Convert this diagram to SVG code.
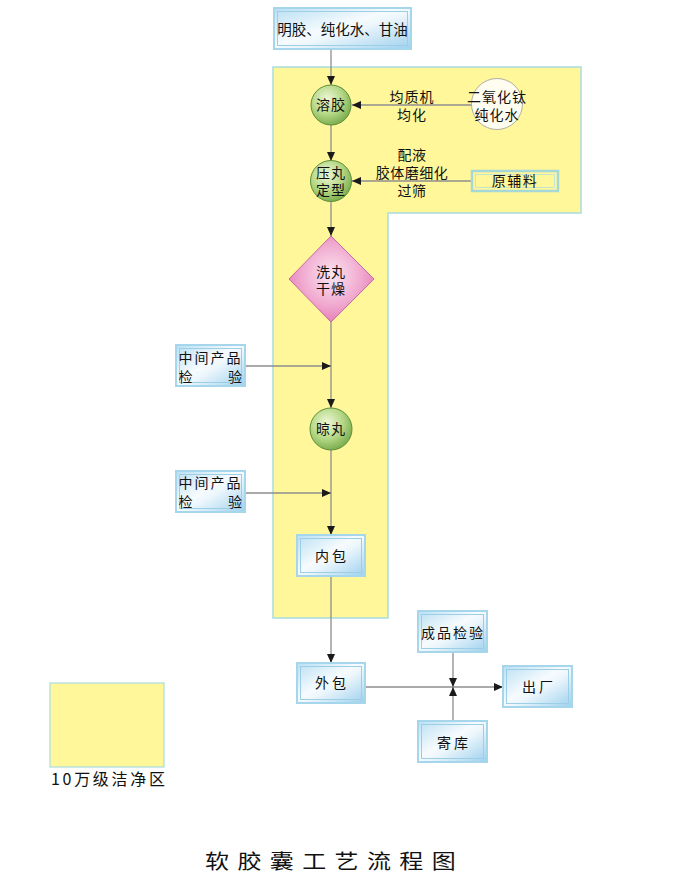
<svg xmlns="http://www.w3.org/2000/svg" width="692" height="890" viewBox="0 0 692 890">
<style>
text{font-family:"Noto Sans CJK SC","Noto Sans",sans-serif;fill:#111;font-size:14px}
.c{text-anchor:middle}
.bo{fill:url(#gb);stroke:#a6d6ec;stroke-width:2}
.bi{fill:none;stroke:#9ccfe6;stroke-width:1}
.ln{fill:none;stroke:#8e8e8e;stroke-width:1.3}
.ci{fill:url(#gg);stroke:#5f8f3a;stroke-width:1}
</style>
<defs>
<linearGradient id="gb" x1="0" y1="0" x2="1" y2="1">
<stop offset="0" stop-color="#b9dff3"/>
<stop offset="0.45" stop-color="#f6fbfe"/>
<stop offset="0.55" stop-color="#eef7fc"/>
<stop offset="1" stop-color="#9dd0ee"/>
</linearGradient>
<radialGradient id="gg" cx="0.4" cy="0.35" r="0.7">
<stop offset="0" stop-color="#eef7d8"/>
<stop offset="0.55" stop-color="#b5d886"/>
<stop offset="1" stop-color="#74a847"/>
</radialGradient>
<radialGradient id="gp" cx="0.5" cy="0.45" r="0.6">
<stop offset="0" stop-color="#fce6f1"/>
<stop offset="0.6" stop-color="#f0a8cf"/>
<stop offset="1" stop-color="#e277b2"/>
</radialGradient>
<marker id="ar" markerUnits="userSpaceOnUse" markerWidth="10" markerHeight="9" refX="9" refY="4" orient="auto">
<path d="M0,0 L9,4 L0,8 z" fill="#1a1a1a"/>
</marker>
</defs>

<g id="cleanroom">
<polygon points="273,67 581,67 581,213 388,213 388,618 273,618" fill="#fff79a" stroke="#a8dce0" stroke-width="1.5"/>
</g>

<g id="connectors">
<line class="ln" x1="331" y1="49" x2="331" y2="85" marker-end="url(#ar)"/>
<line class="ln" x1="331" y1="125" x2="331" y2="161" marker-end="url(#ar)"/>
<line class="ln" x1="331" y1="202" x2="331" y2="236" marker-end="url(#ar)"/>
<line class="ln" x1="331" y1="322" x2="331" y2="408" marker-end="url(#ar)"/>
<line class="ln" x1="331" y1="450" x2="331" y2="535" marker-end="url(#ar)"/>
<line class="ln" x1="331" y1="576" x2="331" y2="663" marker-end="url(#ar)"/>
<line class="ln" x1="472" y1="105" x2="352" y2="105" marker-end="url(#ar)"/>
<line class="ln" x1="472" y1="181" x2="352" y2="181" marker-end="url(#ar)"/>
<line class="ln" x1="245" y1="366" x2="331" y2="366" marker-end="url(#ar)"/>
<line class="ln" x1="245" y1="493" x2="331" y2="493" marker-end="url(#ar)"/>
<line class="ln" x1="365" y1="687" x2="503" y2="687" marker-end="url(#ar)"/>
<line class="ln" x1="453" y1="652" x2="453" y2="687" marker-end="url(#ar)"/>
<line class="ln" x1="453" y1="721" x2="453" y2="687" marker-end="url(#ar)"/>
<text class="c" letter-spacing="1"><tspan x="412" y="102">均质机</tspan><tspan x="412" y="120">均化</tspan></text>
<text class="c" letter-spacing="0.5"><tspan x="412" y="160">配液</tspan><tspan x="412" y="178">胶体磨细化</tspan><tspan x="412" y="196">过筛</tspan></text>
</g>

<g id="n-raw">
<rect class="bo" x="274" y="8" width="137" height="41"/>
<rect class="bi" x="277.5" y="11.5" width="130" height="34"/>
<text class="c" x="342.5" y="35" style="font-size:14.5px">明胶、纯化水、甘油</text>
</g>

<g id="n-rongjiao">
<circle class="ci" cx="331" cy="105" r="20"/>
<text class="c" x="331" y="110" letter-spacing="1">溶胶</text>
</g>

<g id="n-tio2">
<circle cx="497" cy="104" r="25.5" fill="#fffdf0" stroke="#9a9a9a" stroke-width="0.8"/>
<text class="c" letter-spacing="1"><tspan x="497" y="102">二氧化钛</tspan><tspan x="497" y="120">纯化水</tspan></text>
</g>

<g id="n-yawan">
<circle class="ci" cx="331" cy="181" r="20.5"/>
<text class="c" letter-spacing="1"><tspan x="331" y="178">压丸</tspan><tspan x="331" y="195">定型</tspan></text>
</g>

<g id="n-fuliao">
<rect x="472" y="171" width="86" height="20" fill="#fff79a" stroke="#a6d8d8" stroke-width="2.5"/>
<rect x="475.5" y="174.5" width="79" height="13" fill="none" stroke="#b8e0d8" stroke-width="0.8"/>
<text class="c" x="515" y="186" letter-spacing="1.5">原辅料</text>
</g>

<g id="n-xiwan">
<polygon points="331,236 374,279 331,322 289,279" fill="url(#gp)" stroke="#c86aa2" stroke-width="1"/>
<text class="c" letter-spacing="1"><tspan x="331" y="277">洗丸</tspan><tspan x="331" y="294">干燥</tspan></text>
</g>

<g id="n-check1">
<rect class="bo" x="176" y="345" width="69" height="41"/>
<rect class="bi" x="179.5" y="348.5" width="62" height="34"/>
<text><tspan x="178.5" y="363" letter-spacing="2">中间产品</tspan><tspan x="178.5" y="382">检</tspan><tspan x="228" y="382">验</tspan></text>
</g>

<g id="n-liangwan">
<circle class="ci" cx="331" cy="429" r="21"/>
<text class="c" x="331" y="434" letter-spacing="1">晾丸</text>
</g>

<g id="n-check2">
<rect class="bo" x="176" y="471" width="69" height="41"/>
<rect class="bi" x="179.5" y="474.5" width="62" height="34"/>
<text><tspan x="178.5" y="488" letter-spacing="2">中间产品</tspan><tspan x="178.5" y="507">检</tspan><tspan x="228" y="507">验</tspan></text>
</g>

<g id="n-neibao">
<rect class="bo" x="297" y="535" width="68" height="41"/>
<rect class="bi" x="300.5" y="538.5" width="61" height="34"/>
<text class="c" x="332" y="561" letter-spacing="3">内包</text>
</g>

<g id="n-waibao">
<rect class="bo" x="297" y="663" width="68" height="40"/>
<rect class="bi" x="300.5" y="666.5" width="61" height="33"/>
<text class="c" x="332" y="688" letter-spacing="3">外包</text>
</g>

<g id="n-chengpin">
<rect class="bo" x="418" y="611" width="69" height="41"/>
<rect class="bi" x="421.5" y="614.5" width="62" height="34"/>
<text class="c" x="453" y="638" letter-spacing="2">成品检验</text>
</g>

<g id="n-jiku">
<rect class="bo" x="418" y="721" width="69" height="41"/>
<rect class="bi" x="421.5" y="724.5" width="62" height="34"/>
<text class="c" x="454" y="748" letter-spacing="3">寄库</text>
</g>

<g id="n-chuchang">
<rect class="bo" x="503" y="666" width="69" height="41"/>
<rect class="bi" x="506.5" y="669.5" width="62" height="34"/>
<text class="c" x="539" y="692" letter-spacing="3">出厂</text>
</g>

<g id="legend">
<rect x="50" y="683" width="114" height="84" fill="#fff79a" stroke="#a8dce0" stroke-width="1.2"/>
<text x="51" y="785" style="font-size:16px" letter-spacing="2.7">10万级洁净区</text>
</g>

<g id="title">
<text transform="translate(205,869) scale(1.2,1)" x="0" y="0" style="font-size:20px" letter-spacing="7">软胶囊工艺流程图</text>
</g>
</svg>
